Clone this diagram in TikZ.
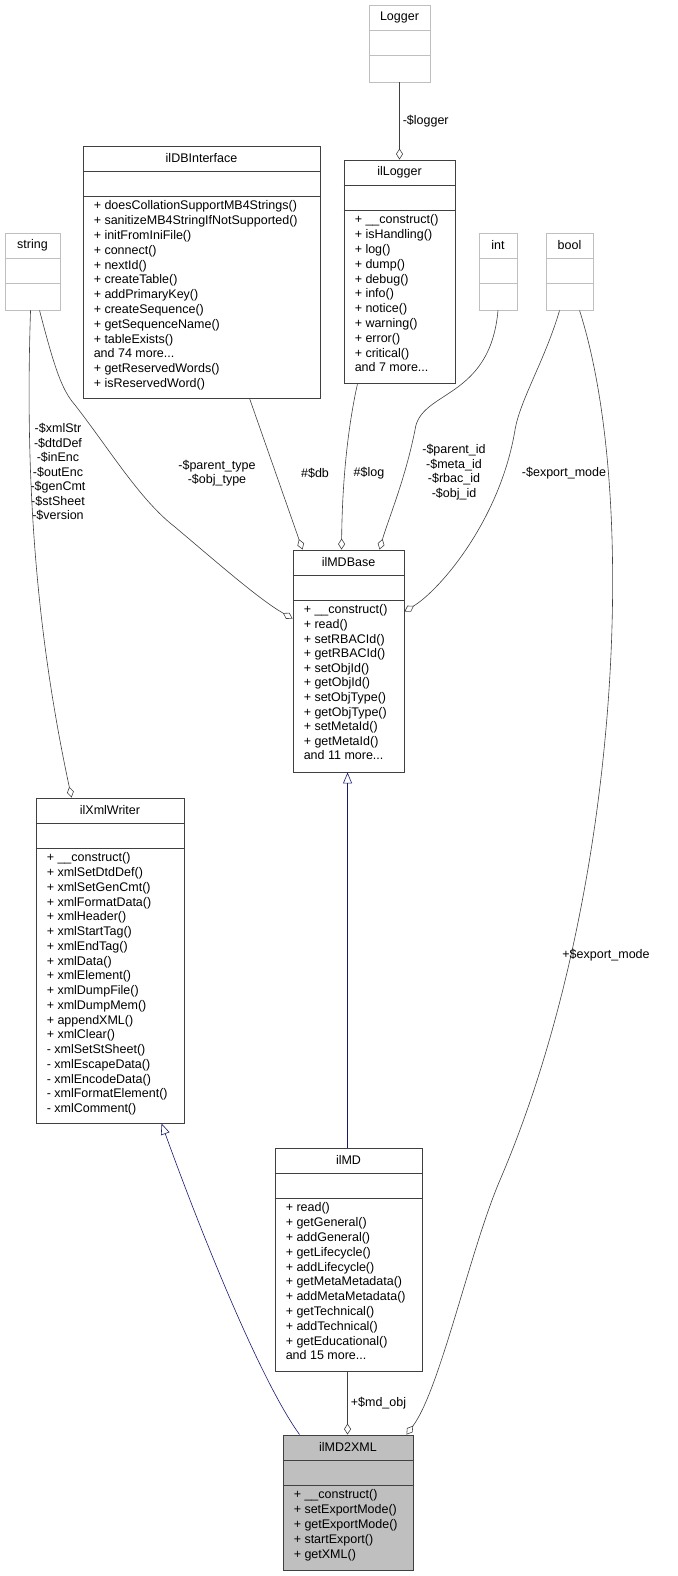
\documentclass[tikz,border=0pt]{standalone}
\usepackage{fontspec}
\setmainfont{Liberation Sans}
\usetikzlibrary{arrows.meta, positioning, calc}
\definecolor{edgeblue}{RGB}{25, 25, 112}
\definecolor{boxgray}{RGB}{191, 191, 191}

% class box: id, x1, y1, x2, y2, title, members, box style, line pitch
\newcommand{\umlclass}[9]{%
  \node[#8, minimum width={#4pt-#2pt}, minimum height={#5pt-#3pt}] (#1) at ({(#2+#4)/2},{(#3+#5)/2}) {};
  \node[font=\fontsize{12.5}{14}\selectfont] at ([yshift=-12.75pt]#1.north) {#6};
  \draw[#8, fill=none] ([yshift=-25.5pt]#1.north west) -- ([yshift=-25.5pt]#1.north east);
  \draw[#8, fill=none] ([yshift=-51pt]#1.north west) -- ([yshift=-51pt]#1.north east);
  \node[anchor=north west, align=left, inner sep=0pt, font=\fontsize{12.5}{#9}\selectfont]
    at ([xshift=11pt, yshift=-55pt]#1.north west) {#7};
}

\begin{document}
\begin{tikzpicture}[x=1pt, y=-1pt,
    cls/.style={rectangle, draw=black!75, line width=0.9pt, inner sep=0pt},
    ext/.style={rectangle, draw=boxgray, line width=0.9pt, inner sep=0pt},
    cur/.style={rectangle, draw=black!75, fill=boxgray, line width=0.9pt, inner sep=0pt},
    agg/.style={draw=black!75, line width=0.6pt, -{Diamond[open, length=11pt, width=7pt]}},
    inh/.style={draw=edgeblue, line width=0.6pt, {Triangle[open, length=11pt, width=9pt]}-},
    lbl/.style={font=\fontsize{12.5}{14.5}\selectfont, inner sep=1pt, align=center}]
    \useasboundingbox (0,0) rectangle (677,1576);

    % External types
    \umlclass{logger}{369}{5}{430}{82}{Logger}{}{ext}{14}
    \umlclass{string}{5}{233}{60}{310}{string}{}{ext}{14}
    \umlclass{int}{479}{233}{517}{310}{int}{}{ext}{14}
    \umlclass{bool}{546}{233}{593}{310}{bool}{}{ext}{14}

    % Classes
    \umlclass{dbi}{83}{146}{320}{398}{ilDBInterface}{+ doesCollationSupportMB4Strings()\\+ sanitizeMB4StringIfNotSupported()\\+ initFromIniFile()\\+ connect()\\+ nextId()\\+ createTable()\\+ addPrimaryKey()\\+ createSequence()\\+ getSequenceName()\\+ tableExists()\\and 74 more...\\+ getReservedWords()\\+ isReservedWord()}{cls}{14.8}
    \umlclass{illogger}{344}{160}{455}{383}{ilLogger}{+ \_\_construct()\\+ isHandling()\\+ log()\\+ dump()\\+ debug()\\+ info()\\+ notice()\\+ warning()\\+ error()\\+ critical()\\and 7 more...}{cls}{14.8}
    \umlclass{mdbase}{293}{550}{404}{772}{ilMDBase}{+ \_\_construct()\\+ read()\\+ setRBACId()\\+ getRBACId()\\+ setObjId()\\+ getObjId()\\+ setObjType()\\+ getObjType()\\+ setMetaId()\\+ getMetaId()\\and 11 more...}{cls}{14.6}
    \umlclass{xmlw}{36}{798}{184}{1123}{ilXmlWriter}{+ \_\_construct()\\+ xmlSetDtdDef()\\+ xmlSetGenCmt()\\+ xmlFormatData()\\+ xmlHeader()\\+ xmlStartTag()\\+ xmlEndTag()\\+ xmlData()\\+ xmlElement()\\+ xmlDumpFile()\\+ xmlDumpMem()\\+ appendXML()\\+ xmlClear()\\- xmlSetStSheet()\\- xmlEscapeData()\\- xmlEncodeData()\\- xmlFormatElement()\\- xmlComment()}{cls}{14.75}
    \umlclass{md}{275}{1148}{422}{1371}{ilMD}{+ read()\\+ getGeneral()\\+ addGeneral()\\+ getLifecycle()\\+ addLifecycle()\\+ getMetaMetadata()\\+ addMetaMetadata()\\+ getTechnical()\\+ addTechnical()\\+ getEducational()\\and 15 more...}{cls}{14.8}
    \umlclass{mdxml}{283}{1435}{413}{1570}{ilMD2XML}{+ \_\_construct()\\+ setExportMode()\\+ getExportMode()\\+ startExport()\\+ getXML()}{cur}{14.8}

    % Aggregations
    \draw[agg] (logger.south) -- node[lbl, right=2pt] {-\$logger} (illogger.north);
    \draw[agg] ([xshift=167pt]dbi.south west) -- ([xshift=10pt]mdbase.north west);
    \node[lbl] at (315,473) {\#\$db};
    \draw[agg] ([xshift=14pt]illogger.south west) .. controls (345,440) and (342,500) .. ([xshift=49pt]mdbase.north west);
    \node[lbl] at (369,473) {\#\$log};
    \draw[agg] (int.south) .. controls (490,400) and (420,390) .. (415,430) .. controls (405,480) and (388,520) .. ([xshift=87pt]mdbase.north west);
    \node[lbl] at (454,472) {-\$parent\_id\\-\$meta\_id\\-\$rbac\_id\\-\$obj\_id};
    \draw[agg] ([xshift=14pt]bool.south west) .. controls (545,360) and (520,400) .. (515,430) .. controls (500,520) and (440,590) .. ([yshift=-62pt]mdbase.north east);
    \node[lbl] at (564,473) {-\$export\_mode};
    \draw[agg] ([xshift=35pt]string.south west) .. controls (55,370) and (62,390) .. (75,405) .. controls (110,450) and (140,500) .. (175,527) .. controls (220,565) and (260,600) .. ([yshift=-69pt]mdbase.north west);
    \node[lbl] at (217,473) {-\$parent\_type\\-\$obj\_type};
    \draw[agg] ([xshift=26pt]string.south west) .. controls (24,500) and (40,650) .. ([xshift=36pt]xmlw.north west);
    \node[lbl] at (58,472) {-\$xmlStr\\-\$dtdDef\\-\$inEnc\\-\$outEnc\\-\$genCmt\\-\$stSheet\\-\$version};
    \draw[agg] ([xshift=34pt]bool.south west) .. controls (640,500) and (620,900) .. (500,1180) .. controls (470,1250) and (440,1390) .. ([xshift=-7pt]mdxml.north east);
    \node[lbl] at (606,955) {+\$export\_mode};
    \draw[agg] ([xshift=73pt]md.south west) -- node[lbl, right=2pt] {+\$md\_obj} ([xshift=65pt]mdxml.north west);

    % Generalisations
    \draw[inh] ([xshift=55pt]mdbase.south west) -- ([xshift=73pt]md.north west);
    \draw[inh] ([xshift=126pt]xmlw.south west) .. controls (200,1230) and (260,1380) .. ([xshift=17pt]mdxml.north west);
\end{tikzpicture}
\end{document}
